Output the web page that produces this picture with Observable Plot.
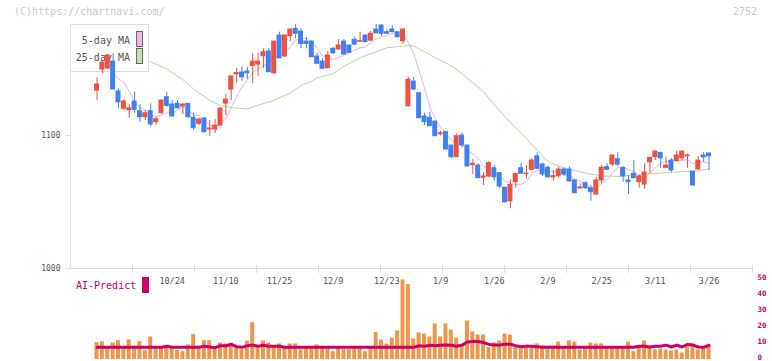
<!DOCTYPE html>
<html><head><meta charset="utf-8">
<script src="https://cdn.jsdelivr.net/npm/d3@7"></script>
<script src="https://cdn.jsdelivr.net/npm/@observablehq/plot@0.6"></script>
<style>
html,body{margin:0;padding:0;background:#fff;}
#wrap{position:relative;width:772px;height:361px;overflow:hidden;font-family:"DejaVu Sans Mono",monospace;background:#fff;}
.layer{position:absolute;left:0;}
#legend{position:absolute;left:70px;top:24px;width:77px;height:46px;background:#fff;border:1px solid #ddd;}
.lg-t{position:absolute;right:18px;font-size:10px;color:#555;line-height:10px;white-space:nowrap;}
.lg-s{position:absolute;left:65px;width:5px;height:14px;border:1px solid #666;}
.txt{position:absolute;white-space:nowrap;line-height:10px;}
</style></head><body><div id="wrap"></div><script>
// ---- data ----
const opens = [1133.8,1149.6,1150.4,1155.6,1133.1,1120.1,1119.0,1125.6,1118.3,1113.8,
1118.3,1110.0,1116.8,1128.8,1123.3,1123.8,1121.8,1123.8,1113.3,1108.8,
1112.8,1104.5,1104.5,1107.5,1124.0,1134.6,1146.0,1147.4,1148.2,1152.3,
1153.4,1159.6,1163.2,1146.8,1175.2,1159.4,1174.7,1180.2,1178.2,1170.7,
1170.7,1159.4,1155.6,1150.6,1165.2,1164.7,1170.7,1167.7,1172.0,1170.5,
1175.2,1171.4,1179.7,1182.7,1177.7,1179.7,1177.7,1170.9,1122.0,1140.6,
1131.8,1114.3,1113.3,1110.5,1101.0,1102.5,1092.5,1083.7,1100.0,1092.5,
1077.7,1077.4,1068.2,1069.2,1075.4,1071.7,1060.7,1050.6,1064.9,1075.4,
1070.9,1074.2,1084.4,1078.2,1075.7,1068.6,1069.4,1074.4,1074.4,1066.2,
1060.2,1064.1,1060.4,1055.6,1066.2,1076.2,1078.2,1082.2,1075.4,1066.2,
1071.2,1064.9,1063.2,1079.9,1083.7,1087.0,1075.7,1081.2,1080.7,1082.9,
1084.4,1072.9,1074.4,1085.0,1086.5];
const highs = [1143.4,1155.5,1160.9,1161.7,1135.1,1127.1,1123.3,1132.6,1123.3,1118.8,
1123.8,1113.8,1126.8,1132.6,1126.3,1126.3,1123.8,1124.0,1116.8,1113.0,
1113.3,1111.3,1112.0,1120.8,1131.0,1144.6,1150.4,1152.0,1151.4,1161.4,
1161.9,1165.2,1165.2,1170.7,1177.7,1175.5,1180.2,1183.5,1180.2,1173.5,
1171.0,1161.9,1157.7,1163.2,1166.4,1172.2,1172.2,1168.0,1173.9,1177.7,
1175.5,1178.2,1183.5,1183.5,1179.5,1182.7,1178.0,1180.2,1143.8,1143.8,
1132.0,1116.8,1117.5,1110.8,1103.2,1103.0,1092.5,1101.3,1101.7,1092.5,
1082.0,1078.7,1072.0,1080.7,1077.4,1072.0,1061.0,1066.7,1071.5,1079.2,
1077.4,1082.5,1087.0,1079.2,1076.7,1073.7,1076.2,1075.7,1076.2,1066.5,
1063.7,1065.0,1062.4,1068.6,1077.4,1078.7,1085.2,1087.2,1076.7,1069.9,
1081.2,1069.9,1078.7,1083.5,1088.2,1087.2,1083.7,1082.5,1088.2,1088.2,
1086.2,1073.0,1084.2,1087.2,1086.7];
const lows = [1126.3,1146.6,1149.6,1134.6,1120.1,1119.0,1113.0,1116.8,1110.0,1111.3,
1106.8,1107.5,1116.0,1121.3,1113.8,1120.1,1115.8,1113.0,1103.8,1107.5,
1102.0,1099.5,1101.5,1107.0,1115.0,1126.3,1139.5,1140.8,1142.0,1138.9,
1144.6,1150.2,1147.6,1146.0,1158.0,1159.0,1170.7,1172.7,1165.2,1165.2,
1158.5,1153.9,1150.0,1150.4,1160.9,1163.9,1160.9,1162.0,1167.7,1170.0,
1170.0,1170.7,1176.5,1174.7,1176.0,1177.5,1173.5,1168.4,1121.8,1133.8,
1112.8,1107.5,1107.0,1099.2,1099.5,1089.0,1082.9,1083.5,1090.8,1076.5,
1070.7,1067.7,1062.4,1068.2,1065.6,1060.2,1049.5,1044.9,1060.7,1071.0,
1067.4,1073.7,1074.7,1069.2,1068.0,1065.6,1068.2,1069.2,1064.9,1056.4,
1059.6,1059.5,1050.6,1055.4,1063.7,1073.7,1076.7,1076.7,1064.9,1055.6,
1067.7,1060.4,1059.6,1071.2,1081.2,1075.4,1074.9,1072.4,1080.0,1081.0,
1075.4,1062.0,1074.2,1079.9,1073.7];
const closes = [1138.3,1154.9,1160.2,1134.6,1125.0,1125.6,1120.5,1119.3,1113.8,1116.8,
1108.3,1112.3,1126.3,1122.3,1114.3,1120.5,1123.3,1113.8,1105.5,1112.0,
1102.5,1105.3,1107.5,1120.3,1127.0,1144.4,1147.0,1143.8,1146.8,1155.6,
1155.6,1162.6,1147.6,1170.7,1158.1,1175.2,1179.7,1176.5,1168.9,1168.9,
1158.9,1153.9,1150.2,1160.2,1161.9,1167.7,1160.9,1162.2,1168.4,1171.0,
1170.2,1176.5,1176.9,1176.5,1176.5,1177.7,1173.9,1179.7,1141.9,1134.6,
1113.0,1110.0,1107.0,1099.5,1101.7,1089.5,1083.7,1099.5,1092.5,1076.7,
1078.7,1067.9,1069.2,1079.2,1068.6,1061.7,1049.8,1062.9,1071.2,1071.2,
1071.4,1081.2,1074.9,1070.7,1068.6,1069.4,1074.4,1070.7,1065.6,1056.6,
1060.9,1060.4,1057.4,1066.2,1075.7,1074.2,1085.0,1078.2,1069.2,1064.9,
1067.9,1069.2,1072.2,1083.2,1088.0,1082.9,1077.4,1073.7,1085.0,1088.0,
1085.0,1062.4,1081.2,1083.5,1084.4];
// 25-day moving average, read at these candle positions
const ma25Idx = [10,13,16,18,21,23,25,28,30,33,36,38,40,41,44,46,49,52,54,57,58,59,61,63,66,68,69,72,73,76,80,84,87,92,94,97,102,108,112,114];
const ma25Val = [1155.5,1150,1142,1135,1126.5,1122.5,1121,1120,1122.8,1126.5,1132,1137.5,1140.8,1143.5,1146.5,1152,1158.5,1163,1166,1167.2,1168,1167.2,1163,1158.5,1152.5,1146.5,1143,1133,1128,1114,1097.5,1080.5,1075.3,1071,1069.7,1069.2,1071,1072.5,1073.5,1075];
const volumes = [10.5,11.1,7.4,10.3,11.8,7.4,12.2,7.4,11.1,5.5,
14.1,7.4,7.4,7.4,7.4,5.5,4.9,9.1,15.5,7.4,
11.8,11.8,7.4,10.3,9.7,10.3,7.4,6.1,11.6,23.0,
7.4,11.6,10.3,7.4,9.7,7.4,9.7,9.7,6.1,7.4,
7.4,9.1,7.4,7.4,4.9,7.4,6.1,6.1,7.4,7.4,
4.9,7.4,16.8,12.2,9.7,13.4,17.8,49.7,46.8,12.8,
16.6,15.9,14.1,22.2,14.1,22.2,18.4,13.4,8.4,24.1,
17.2,15.3,15.3,7.4,10.3,11.6,15.9,15.3,7.4,6.8,
7.4,7.8,9.7,8.4,8.4,8.4,10.9,8.0,11.6,10.9,
5.9,7.4,10.3,9.7,9.7,7.4,7.4,7.4,7.4,10.9,
4.9,7.4,11.6,8.0,5.9,6.6,5.9,5.3,5.9,4.1,
7.8,9.7,5.9,7.4,8.6];
const aiPredict = [7.6,7.6,7.6,7.6,7.6,7.6,7.6,7.6,7.6,7.6,
7.6,7.6,7.6,8.3,7.6,7.6,7.6,7.6,7.6,7.6,
8.3,7.8,7.4,8.6,8.6,9.4,8.0,7.6,8.6,9.0,
8.3,8.9,8.3,8.3,8.3,7.6,7.6,7.6,7.6,7.6,
7.6,7.6,7.6,7.6,7.6,7.6,7.6,7.6,7.6,7.6,
7.6,7.6,7.6,7.6,7.6,7.6,7.6,7.6,7.6,7.6,
8.6,8.3,8.9,8.6,8.9,9.0,8.9,8.3,9.0,10.9,
11.2,11.2,10.6,9.4,9.0,9.0,9.6,9.6,8.6,8.0,
8.3,8.3,8.0,7.6,7.6,7.6,7.6,7.6,7.6,7.6,
7.6,7.6,7.6,7.6,7.6,7.6,7.6,7.6,7.6,7.6,
7.6,8.3,8.3,7.8,8.3,8.3,9.0,7.8,9.0,7.8,
9.4,9.0,7.8,7.6,8.9];
const labelIdx = [14,24,34,44,54,64,74,84,94,104,114];
const labelText = ["10/24","11/10","11/25","12/9","12/23","1/9","1/26","2/9","2/25","3/11","3/26"];
const priceTicks = [1000,1100];
const predictTicks = [0,10,20,30,40,50];

// ---- styles ----
const UP = "#F05040", DOWN = "#4080F0";
const xDomain = [-4.94, 122.1];
const xTicks = d3.range(1, 12).map(k => xDomain[0] + k * (xDomain[1] - xDomain[0]) / 11);
const candles = closes.map((c, i) => ({i, o: opens[i], h: highs[i], l: lows[i], c}));
const yDomain = [1000, d3.max(highs)];
const base = {width: 772, marginLeft: 70, marginRight: 20, x: {domain: xDomain, axis: null},
  style: {background: "transparent", fontFamily: "DejaVu Sans Mono, monospace", overflow: "visible"}};

const wrap = document.getElementById("wrap");
function place(el, top, z) { el.classList.add("layer"); el.style.top = top + "px"; el.style.zIndex = z; wrap.appendChild(el); }

// layer 1: moving-average lines
const lines = Plot.plot({...base, height: 290, marginTop: 24, marginBottom: 22,
  y: {domain: yDomain, axis: null},
  marks: [
    Plot.line(ma25Idx, {x: d => d, y: (d, k) => ma25Val[k], stroke: "#B4DCA0", strokeWidth: 1}),
    Plot.lineY(candles, Plot.windowY({k: 5, anchor: "end", strict: false, reduce: v => v.length < 2 ? NaN : d3.mean(v)},
      {x: "i", y: "c", stroke: "#E8B4E8", strokeWidth: 1}))
  ]});
place(lines, 0, 1);

// legend (between lines and candles)
const lg = document.createElement("div");
lg.id = "legend";
lg.innerHTML = '<div class="lg-t" style="top:11px">5-day MA</div><div class="lg-s" style="top:6px;background:#EBBBEB"></div>' +
  '<div class="lg-t" style="top:28px">25-day MA</div><div class="lg-s" style="top:23px;background:#C2E2B4"></div>';
lg.style.zIndex = 2;
wrap.appendChild(lg);

// layer 3: candles + axes
const main = Plot.plot({...base, height: 290, marginTop: 24, marginBottom: 22,
  y: {domain: yDomain, axis: null},
  color: {type: "identity"},
  marks: [
    Plot.ruleX([xDomain[0]], {stroke: "#ddd"}),
    Plot.ruleY([1000], {stroke: "#ddd"}),
    Plot.axisY({ticks: priceTicks, tickFormat: d3.format("d"), tickSize: 5, tickPadding: 5, stroke: "#ddd", fill: "#555", fontSize: 8, label: null}),
    Plot.axisX({ticks: xTicks, tickSize: 8, dy: -3, text: null, stroke: "#ddd", label: null}),
    Plot.text(labelText, {x: (d, k) => labelIdx[k], text: d => d, frameAnchor: "bottom", dy: 15, fill: "#555", fontSize: 8.5}),
    Plot.ruleX(candles, {x: "i", y1: "l", y2: "h", stroke: d => d.c >= d.o ? UP : DOWN, strokeWidth: 1}),
    Plot.rect(candles, {x1: d => d.i - 0.465, x2: d => d.i + 0.465, y1: "o", y2: "c",
      fill: d => d.c >= d.o ? UP : DOWN, insetTop: -0.5, insetBottom: -0.5})
  ]});
place(main, 0, 3);

// bottom panel: AI-Predict
const bottom = Plot.plot({...base, height: 91, marginTop: 9, marginBottom: 2,
  y: {domain: [0, 50], axis: null},
  marks: [
    Plot.rectY(volumes, {x1: (d, k) => k - 0.37, x2: (d, k) => k + 0.37, y: d => d, fill: "#F0964A"}),
    Plot.lineY(aiPredict, {x: (d, k) => k, y: d => d, stroke: "#CC0066", strokeWidth: 3}),
    Plot.axisY({anchor: "right", ticks: predictTicks, tickSize: 0, tickPadding: 5, dy: -1.5, fill: "#CC0066",
      fontSize: 7.5, fontWeight: "bold", label: null})
  ]});
place(bottom, 270, 4);

// texts
function addText(html, css) { const d = document.createElement("div"); d.className = "txt"; d.style.cssText += css; d.style.zIndex = 5; d.textContent = html; wrap.appendChild(d); return d; }
addText("(C)https://chartnavi.com/", "left:14px;top:7px;font-size:10px;color:#c8c8c8;");
addText("2752", "right:15px;top:7px;font-size:10px;color:#c8c8c8;");
addText("AI-Predict", "left:76px;top:281px;font-size:10px;color:#CC0066;");
const sw = document.createElement("div");
sw.style.cssText = "position:absolute;left:142px;top:277px;width:7px;height:16px;background:#CC0066;z-index:5;";
wrap.appendChild(sw);
</script></body></html>
